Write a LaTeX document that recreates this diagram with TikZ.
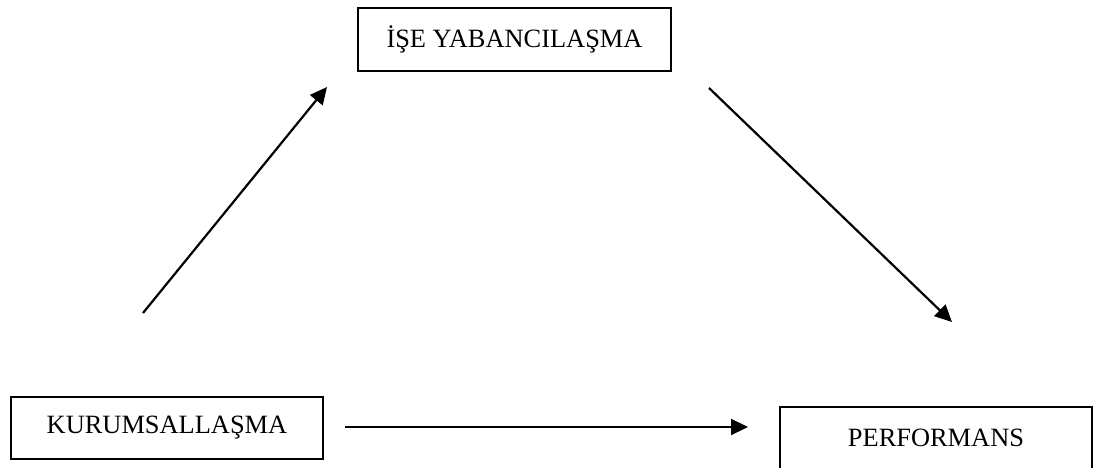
\documentclass[tikz,border=0pt]{standalone}
\usepackage{fontspec}
\setmainfont{Liberation Serif}
\usetikzlibrary{arrows.meta}
\begin{document}
\begin{tikzpicture}[x=1pt,y=-1pt,
  boxnode/.style={draw, line width=2pt, minimum width=312pt, minimum height=62pt,
    inner sep=0pt, font=\fontsize{26.4}{30}\selectfont},
  conn/.style={line width=2.2pt, -{Triangle[length=17pt,width=16pt]}}]
\useasboundingbox (0,0) rectangle (1096,468);
\begin{scope}
\clip (0,0) rectangle (1096,468);
\node[boxnode, minimum width=313pt, minimum height=63pt] (ise) at (514.5,39.5) {İŞE YABANCILAŞMA};
\node[boxnode] (kurum) at (167,428) {KURUMSALLAŞMA};
\node[boxnode] (perf) at (936,438) {PERFORMANS};
\end{scope}
\coordinate (a1s) at (143,313);
\coordinate (a1e) at (327,87);
\coordinate (a2s) at (709,88);
\coordinate (a2e) at (952,322);
\coordinate (a3s) at (345,427);
\coordinate (a3e) at (748,427);
\draw[conn] (a1s) -- (a1e);
\draw[conn] (a2s) -- (a2e);
\draw[conn] (a3s) -- (a3e);
\end{tikzpicture}
\end{document}
